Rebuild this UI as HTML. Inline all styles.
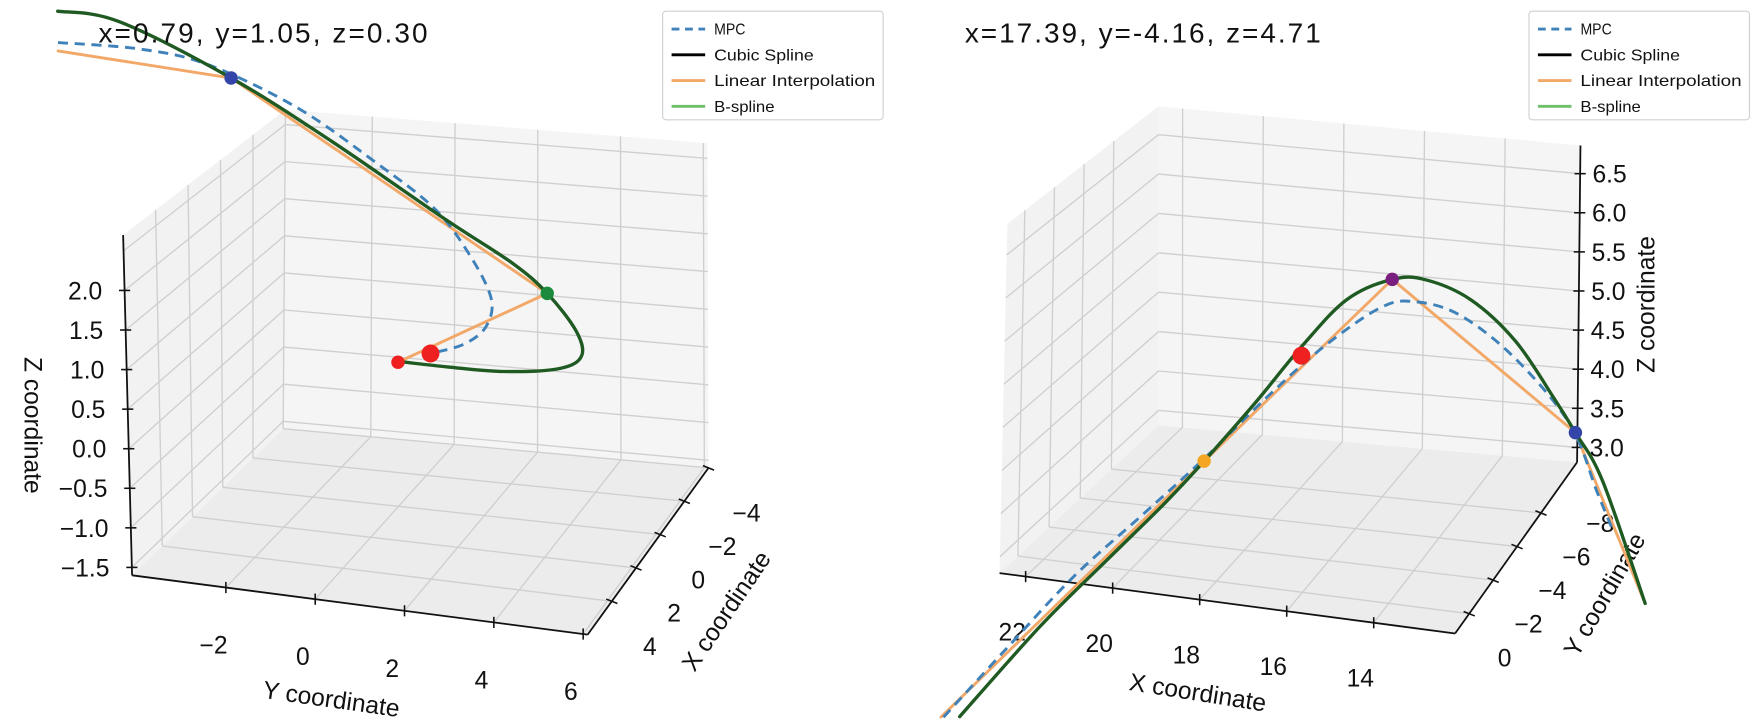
<!DOCTYPE html>
<html><head><meta charset="utf-8"><style>
html,body{margin:0;padding:0;background:#fff;}
svg{display:block;font-family:"Liberation Sans",sans-serif;}
</style></head><body>
<svg id="chart" width="1755" height="722" viewBox="0 0 1755 722" xmlns="http://www.w3.org/2000/svg">
<rect width="1755" height="722" fill="#fff"/>
<g transform="scale(1.1193)">
<g id="left"></g>
<g id="right"></g>
</g>
</svg>
<script>
// ===== Left panel data (X, Y, Z) =====
const L_mpcX=[1,1,1,1,1,1,1,1,1,1,1];
const L_mpcY=[-7.49,-5.54,-3.97,-1.89,-0.06,1.25,2.03,2.55,2.42,1.90,1.12];
const L_mpcZ=[4.19,4.22,4.11,3.67,3.06,2.56,2.03,1.47,1.09,0.83,0.66];
const L_bsX=[1,1,1,1,1,1,1,1,1,1,1,1,1];
const L_bsY=[-7.49,-6.06,-3.45,-1.10,1.51,3.07,3.86,4.51,4.64,4.12,2.81,1.51,0.47];
const L_bsZ=[4.60,4.55,3.97,3.28,2.43,1.95,1.61,1.17,0.85,0.65,0.53,0.51,0.51];
const L_linX=[1,1,1,1];
const L_linY=[-7.49,-3.45,3.86,0.36];
const L_linZ=[4.08,3.97,1.61,0.50];
const L_ptY=[-3.45,3.86,0.36,1.12];
const L_ptZ=[3.97,1.61,0.50,0.66];
const L_ptX=[1,1,1,1];
const L_ptColor=['#3345a8','#1b8a3c','#ee2020','#ee2020'];
const L_ptR=[6,6,6,8];
const L_yTicks=[-2,0,2,4,6];
const L_xTicks=[-4,-2,0,2,4];
const L_zTicks=[-1.5,-1.0,-0.5,0.0,0.5,1.0,1.5,2.0,2.5];
const L_zLabels=['−1.5','−1.0','−0.5','0.0','0.5','1.0','1.5','2.0'];

// ===== Right panel data =====
const R_mpcX=[25.79,24.32,22.70,21.09,19.62,18.14,16.80,15.46,14.65,13.57,12.23,10.89,10.22,9.82];
const R_mpcZ=[-0.01,0.89,1.87,2.70,3.47,4.30,4.99,5.54,5.66,5.56,5.11,4.38,3.60,3.15];
const R_bsX=[25.40,23.51,21.90,20.56,19.62,18.41,17.33,16.27,15.19,14.38,13.31,12.23,11.30,10.76,10.09,9.02];
const R_bsZ=[0.02,1.21,2.12,2.87,3.44,4.22,4.96,5.59,5.90,5.94,5.76,5.32,4.69,4.29,3.74,2.31];
const R_linX=[25.85,19.62,15.19,10.76,9.02];
const R_linZ=[-0.01,3.44,5.90,4.29,2.31];
const R_ptX=[19.62,17.33,15.19,10.76];
const R_ptZ=[3.44,4.85,5.90,4.29];
const R_ptColor=['#f5a623','#ee2020','#7a1f80','#3345a8'];
const R_ptR=[6,8,6,6];
const R_Ymid=-5.92;
const R_xTicks=[22,20,18,16,14];
const R_yTicks=[-8,-6,-4,-2,0];
const R_zTicks=[3.0,3.5,4.0,4.5,5.0,5.5,6.0,6.5];

const NS='http://www.w3.org/2000/svg';
function mk(parent,tag,attrs){const e=document.createElementNS(NS,tag);for(const k in attrs)e.setAttribute(k,attrs[k]);parent.appendChild(e);return e;}

function makeProj(c){
  return function(u,v,w){
    const b0=[c.A[0]*(1-u)+c.B[0]*u, c.A[1]*(1-u)+c.B[1]*u];
    const b1=[c.D[0]*(1-u)+c.C[0]*u, c.D[1]*(1-u)+c.C[1]*u];
    const t0=[c.E[0]*(1-u)+c.F[0]*u, c.E[1]*(1-u)+c.F[1]*u];
    const t1=[c.H[0]*(1-u)+c.G[0]*u, c.H[1]*(1-u)+c.G[1]*u];
    const b=[b0[0]*(1-v)+b1[0]*v, b0[1]*(1-v)+b1[1]*v];
    const t=[t0[0]*(1-v)+t1[0]*v, t0[1]*(1-v)+t1[1]*v];
    return [b[0]*(1-w)+t[0]*w, b[1]*(1-w)+t[1]*w];
  };
}
function smoothPath(pts){
  let d='M'+pts[0][0].toFixed(1)+','+pts[0][1].toFixed(1);
  for(let i=0;i<pts.length-1;i++){
    const p0=pts[Math.max(0,i-1)],p1=pts[i],p2=pts[i+1],p3=pts[Math.min(pts.length-1,i+2)];
    const c1=[p1[0]+(p2[0]-p0[0])/6,p1[1]+(p2[1]-p0[1])/6];
    const c2=[p2[0]-(p3[0]-p1[0])/6,p2[1]-(p3[1]-p1[1])/6];
    d+=' C'+c1[0].toFixed(1)+','+c1[1].toFixed(1)+' '+c2[0].toFixed(1)+','+c2[1].toFixed(1)+' '+p2[0].toFixed(1)+','+p2[1].toFixed(1);
  }
  return d;
}
function lineD(pts){return 'M'+pts.map(p=>p[0].toFixed(1)+','+p[1].toFixed(1)).join(' L');}

function drawBox(g,P){
  const pane=(pts,fill,name)=>{const e=mk(g,'polygon',{points:pts.map(p=>P(...p).join(',')).join(' '),fill:fill,stroke:'none'});
    };
  pane([[0,0,0],[1,0,0],[1,1,0],[0,1,0]],'#ececec','floor-pane');
  pane([[0,0,0],[0,1,0],[0,1,1],[0,0,1]],'#f2f2f2','side-pane');
  pane([[0,1,0],[1,1,0],[1,1,1],[0,1,1]],'#f5f5f5','back-pane');
}
function gl(g,P,a,b){const p=P(...a),q=P(...b);
  const e=mk(g,'line',{x1:p[0],y1:p[1],x2:q[0],y2:q[1],stroke:'#cfcfcf','stroke-width':1.2});
  }
function axLine(g,P,a,b,name){const p=P(...a),q=P(...b);
  const e=mk(g,'line',{x1:p[0],y1:p[1],x2:q[0],y2:q[1],stroke:'#111','stroke-width':1.6});
  }
function txt(g,x,y,s,size,anchor,name,rot){
  const e=mk(g,'text',{x:x,y:y,'font-size':size,fill:'#111','text-anchor':anchor||'middle'});
  if(rot!==undefined)e.setAttribute('transform','rotate('+rot+' '+x+' '+y+')');
  e.textContent=s;return e;}
function tick(g,P,at,dir,name){const p=P(...at);
  const e=mk(g,'line',{x1:p[0]-dir[0],y1:p[1]-dir[1],x2:p[0]+dir[0],y2:p[1]+dir[1],stroke:'#111','stroke-width':1.4});
  return p;}
function curve(g,pts,attrs,name,smooth){const e=mk(g,'path',Object.assign({d:smooth?smoothPath(pts):lineD(pts),fill:'none','stroke-linecap':'round','stroke-linejoin':'round'},attrs));
  }
function dot(g,p,r,c,name){const e=mk(g,'circle',{cx:p[0],cy:p[1],r:r,fill:c});
  }
function legend(g,x,y){
  const box=mk(g,'rect',{x:x,y:y,width:197,height:97,rx:3,fill:'#fff','fill-opacity':0.85,stroke:'#d0d0d0'});
  
  const items=[['MPC','#3f82b9','7,5',0.9,28],['Cubic Spline','#000','',1,89],['Linear Interpolation','#f2a868','',1,144],['B-spline','#6fbf6a','',1,54]];
  items.forEach((it,i)=>{const yy=y+16+i*23;
    const l=mk(g,'line',{x1:x+8,y1:yy,x2:x+38,y2:yy,stroke:it[1],'stroke-width':2.6});
    if(it[2])l.setAttribute('stroke-dasharray',it[2]);
    
    const t=txt(g,x+46,yy+5,it[0],14,'start','legend-entry');t.setAttribute('textLength',it[4]);t.setAttribute('lengthAdjust','spacingAndGlyphs');
  });
}

// ================= LEFT =================
(function(){
  const g=document.getElementById('left');
  const P=makeProj({A:[118,514],B:[525,567],C:[633,418],D:[253,383],E:[110,210],F:[515,265],G:[632,128],H:[255,98]});
  const yU=Y=>(Y+4.1)/10.2, xV=X=>(6-X)/10, zW=Z=>(Z+1.6)/4.3;
  drawBox(g,P);
  L_yTicks.forEach(t=>{const u=yU(t);gl(g,P,[u,0,0],[u,1,0]);gl(g,P,[u,1,0],[u,1,1]);});
  L_xTicks.forEach(t=>{const v=xV(t);gl(g,P,[0,v,0],[1,v,0]);gl(g,P,[0,v,0],[0,v,1]);});
  L_zTicks.forEach(t=>{const w=zW(t);if(w>1)return;gl(g,P,[0,0,w],[0,1,w]);gl(g,P,[0,1,w],[1,1,w]);});
  axLine(g,P,[0,0,0],[0,0,1],'z-axis-line');
  axLine(g,P,[0,0,0],[1,0,0],'y-axis-line');
  axLine(g,P,[1,0,0],[1,1,0],'x-axis-line');
  L_zLabels.forEach((s,i)=>{const p=tick(g,P,[0,0,zW(L_zTicks[i])],[5,0],'z-tick');txt(g,p[0]-20,p[1]+8,s,22,'end','z-tick-label');});
  L_yTicks.forEach(t=>{const p=tick(g,P,[yU(t),0,0],[0,5],'y-tick');txt(g,p[0]-11,p[1]+59,String(t).replace('-','−'),22,'middle','y-tick-label');});
  L_xTicks.forEach(t=>{const p=tick(g,P,[1,xV(t),0],[5,2],'x-tick');txt(g,p[0]+34,p[1]+48,String(t).replace('-','−'),22,'middle','x-tick-label');});
  txt(g,22,380,'Z coordinate',22,'middle','z-axis-title',90);
  txt(g,295,632,'Y coordinate',22,'middle','y-axis-title',8);
  txt(g,655,550,'X coordinate',22,'middle','x-axis-title',-56);
  const toP=(X,Y,Z)=>P(yU(Y),xV(X),zW(Z));
  const m=L_mpcY.map((y,i)=>toP(L_mpcX[i],y,L_mpcZ[i]));
  const b=L_bsY.map((y,i)=>toP(L_bsX[i],y,L_bsZ[i]));
  const l=L_linY.map((y,i)=>toP(L_linX[i],y,L_linZ[i]));
  curve(g,l,{stroke:'#f2a868','stroke-width':2.6},'linear-interpolation-line',false);
  curve(g,m,{stroke:'#3f82b9','stroke-width':2.6,'stroke-dasharray':'9,6','stroke-linecap':'butt'},'mpc-line',true);
  curve(g,b,{stroke:'#1f5a22','stroke-width':3},'bspline-line',true);
  L_ptY.forEach((y,i)=>dot(g,toP(L_ptX[i],y,L_ptZ[i]),L_ptR[i],L_ptColor[i],'waypoint-marker'));
  const t=txt(g,88,38,'x=0.79, y=1.05, z=0.30',25,'start','coordinate-readout');t.setAttribute('textLength',294);
  legend(g,592,10);
})();

// ================= RIGHT =================
(function(){
  const g=document.getElementById('right');
  const P=makeProj({A:[893,512],B:[1300,566],C:[1409,413],D:[1035,380],E:[900,200],F:[1307,254],G:[1412,130],H:[1035,95]});
  const xU=X=>(22.6-X)/10.47, yV=Y=>(-0.82-Y)/10.2, zW=Z=>(Z-2.81)/4.05;
  drawBox(g,P);
  R_xTicks.forEach(t=>{const u=xU(t);gl(g,P,[u,0,0],[u,1,0]);gl(g,P,[u,1,0],[u,1,1]);});
  R_yTicks.forEach(t=>{const v=yV(t);if(v<0||v>1)return;gl(g,P,[0,v,0],[1,v,0]);gl(g,P,[0,v,0],[0,v,1]);});
  R_zTicks.forEach(t=>{const w=zW(t);gl(g,P,[0,0,w],[0,1,w]);gl(g,P,[0,1,w],[1,1,w]);});
  axLine(g,P,[0,0,0],[1,0,0],'x-axis-line');
  axLine(g,P,[1,0,0],[1,1,0],'y-axis-line');
  axLine(g,P,[1,1,0],[1,1,1],'z-axis-line');
  R_zTicks.forEach(t=>{const p=tick(g,P,[1,1,zW(t)],[5,0],'z-tick');txt(g,p[0]+11,p[1]+8,t.toFixed(1),22,'start','z-tick-label');});
  R_xTicks.forEach(t=>{const p=tick(g,P,[xU(t),0,0],[0,5],'x-tick');txt(g,p[0]-12,p[1]+57,String(t),22,'middle','x-tick-label');});
  R_yTicks.forEach(t=>{const v=yV(t);const p=v>=0?tick(g,P,[1,v,0],[5,2],'y-tick'):P(1,v,0);txt(g,p[0]+53,p[1]+17,String(t).replace('-','−'),22,'middle','y-tick-label');});
  txt(g,1069,626,'X coordinate',22,'middle','x-axis-title',9);
  txt(g,1440,535,'Y coordinate',22,'middle','y-axis-title',-60);
  txt(g,1478,272,'Z coordinate',22,'middle','z-axis-title',-90);
  const toP=(X,Y,Z)=>P(xU(X),yV(Y),zW(Z));
  const m=R_mpcX.map((x,i)=>toP(x,R_Ymid,R_mpcZ[i]));
  const b=R_bsX.map((x,i)=>toP(x,R_Ymid,R_bsZ[i]));
  const l=R_linX.map((x,i)=>toP(x,R_Ymid,R_linZ[i]));
  curve(g,l,{stroke:'#f2a868','stroke-width':2.6},'linear-interpolation-line',false);
  curve(g,m,{stroke:'#3f82b9','stroke-width':2.6,'stroke-dasharray':'9,6','stroke-linecap':'butt'},'mpc-line',true);
  curve(g,b,{stroke:'#1f5a22','stroke-width':3},'bspline-line',true);
  R_ptX.forEach((x,i)=>dot(g,toP(x,R_Ymid,R_ptZ[i]),R_ptR[i],R_ptColor[i],'waypoint-marker'));
  const t=txt(g,862,38,'x=17.39, y=-4.16, z=4.71',25,'start','coordinate-readout');t.setAttribute('textLength',318);
  legend(g,1366,10);
})();
</script>
</body></html>
